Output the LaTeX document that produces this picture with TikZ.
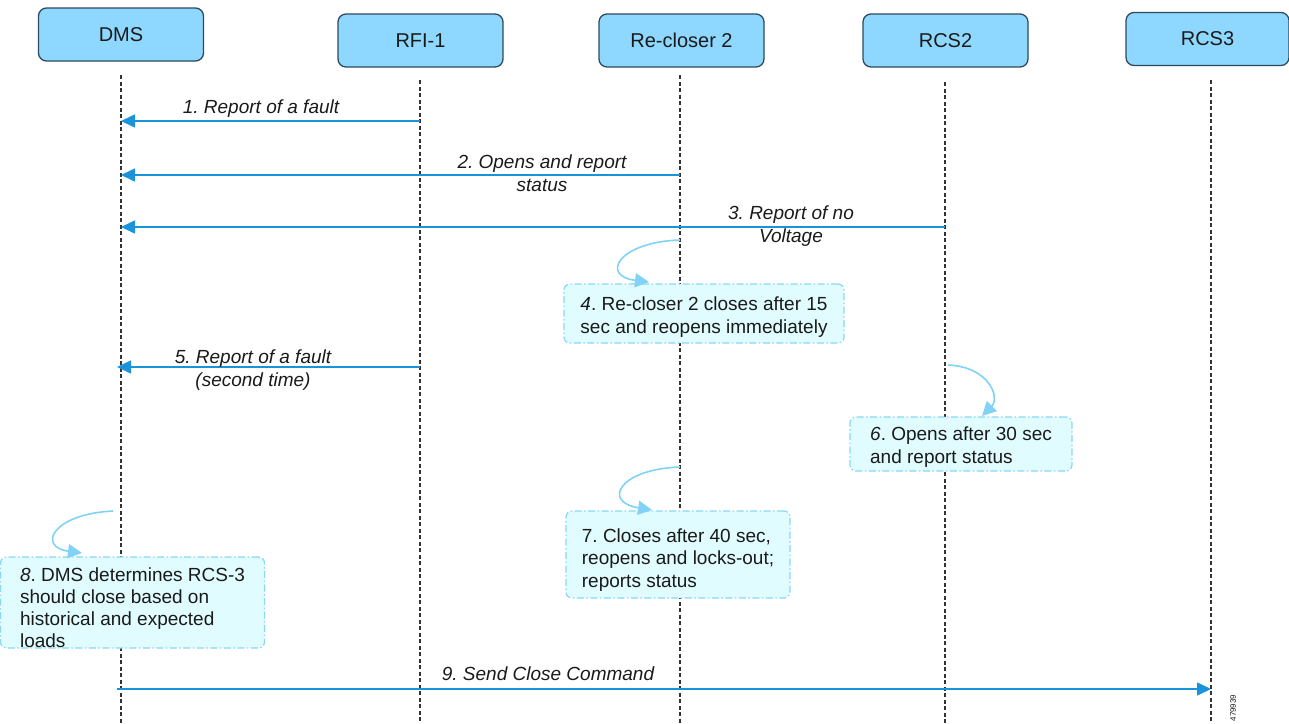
\documentclass[tikz,border=0pt]{standalone}
\usepackage{fontspec}
\setmainfont{Liberation Sans}
\usetikzlibrary{arrows.meta}
\definecolor{hdrfill}{HTML}{8ED8FF}
\definecolor{hdrdraw}{HTML}{2E4A5C}
\definecolor{msgblue}{HTML}{1B93DA}
\definecolor{loopblue}{HTML}{80D2F6}
\definecolor{notefill}{HTML}{E0FCFF}
\definecolor{notedraw}{HTML}{8AD6F5}
\definecolor{txt}{HTML}{1A1A1A}
\begin{document}
\frenchspacing
\begin{tikzpicture}[x=1pt,y=-1pt,
 hdr/.style={draw=hdrdraw, line width=1.3pt, fill=hdrfill, rounded corners=8pt, minimum width=165pt, minimum height=53pt, font=\fontsize{20}{24}\selectfont, text=txt},
 lifeline/.style={draw=black!80, line width=1.1pt, dash pattern=on 4pt off 2.5pt},
 msg/.style={draw=msgblue, line width=1.6pt, -{Triangle[length=14pt,width=13pt]}},
 msglabel/.style={font=\fontsize{19}{23}\selectfont\itshape, align=center, text=txt, inner sep=0pt},
 loopa/.style={draw=loopblue, line width=1.6pt, -{Triangle[length=14pt,width=14pt]}},
 note/.style={draw=notedraw, line width=1.2pt, dash pattern=on 7pt off 2.5pt on 1.5pt off 2.5pt, fill=notefill, rounded corners=6pt, font=\fontsize{19}{22.5}\selectfont, align=left, text=txt, inner sep=0pt, text depth=0pt},
]
\useasboundingbox (0,0) rectangle (1289,723);

% headers
\node[hdr] (dms) at (121,34.5) {DMS};
\node[hdr] (rfi) at (420.5,40.5) {RFI-1};
\node[hdr] (rec) at (681.5,40.5) {Re-closer 2};
\node[hdr] (rcs2) at (945.5,40.5) {RCS2};
\node[hdr, minimum width=163pt] (rcs3) at (1207.5,39) {RCS3};

% lifelines
\coordinate (dmsT) at (121,75);   \coordinate (dmsB) at (121,723);
\coordinate (rfiT) at (420,80);   \coordinate (rfiB) at (420,723);
\coordinate (recT) at (680,75);   \coordinate (recB) at (680,723);
\coordinate (rcs2T) at (945,82);  \coordinate (rcs2B) at (945,723);
\coordinate (rcs3T) at (1211,80); \coordinate (rcs3B) at (1211,723);
\foreach \l in {dms,rfi,rec,rcs2,rcs3} \draw[lifeline] (\l T) -- (\l B);

% notes
\node[note, minimum width=280pt, minimum height=59pt, font=\fontsize{19}{23.5}\selectfont, text height=40pt] (n4) at (704,313.5) {\textit{4}. Re-closer 2 closes after 15\\sec and reopens immediately};
\node[note, minimum width=222pt, minimum height=54pt, text height=38pt] (n6) at (961,444) {\textit{6}. Opens after 30 sec\\and report status};
\node[note, minimum width=224pt, minimum height=87pt, text height=65pt] (n7) at (678,554.5) {7. Closes after 40 sec,\\reopens and locks-out;\\reports status};
\node[note, minimum width=264pt, minimum height=91pt, font=\fontsize{19}{22}\selectfont, text height=90pt] (n8) at (132.5,602.5) {\textit{8}. DMS determines RCS-3\\should close based on\\historical and expected\\loads};

% message coordinates
\coordinate (m1s) at (420,121);  \coordinate (m1e) at (121,121);
\coordinate (m2s) at (680,175);  \coordinate (m2e) at (121,175);
\coordinate (m3s) at (945,227);  \coordinate (m3e) at (121,227);
\coordinate (m5s) at (420,367);  \coordinate (m5e) at (117,367);
\coordinate (m9s) at (117,689);  \coordinate (m9e) at (1211,689);

\draw[msg] (m1s) -- (m1e);
\draw[msg] (m2s) -- (m2e);
\draw[msg] (m3s) -- (m3e);
\draw[msg] (m5s) -- (m5e);
\draw[msg] (m9s) -- (m9e);

\node[msglabel] (l1) at (261,109) {1. Report of a fault};
\node[msglabel] (l2) at (542,173) {2. Opens and report\\status};
\node[msglabel] (l3) at (791,226) {3. Report of no\\Voltage};
\node[msglabel] (l5) at (253,370) {5. Report of a fault\\(second time)};
\node[msglabel] (l9) at (548,674) {9. Send Close Command};

% self loops
\coordinate (s4) at (680,240);  \coordinate (e4) at (649,282);
\coordinate (s6) at (948,365);  \coordinate (e6) at (982,416);
\coordinate (s7) at (680,467);  \coordinate (e7) at (652,510);
\coordinate (s8) at (113,511);  \coordinate (e8) at (82,553);
\draw[loopa] (s4) .. controls (618,242) and (600,276) .. (e4);
\draw[loopa] (s6) .. controls (990,367) and (1000,398) .. (e6);
\draw[loopa] (s7) .. controls (619,469) and (602,502) .. (e7);
\draw[loopa] (s8) .. controls (52,514) and (37,547) .. (e8);

\node[rotate=90, font=\fontsize{8}{9}\selectfont, text=txt, inner sep=0pt] (fig) at (1233,708) {479939};
\end{tikzpicture}
\end{document}
